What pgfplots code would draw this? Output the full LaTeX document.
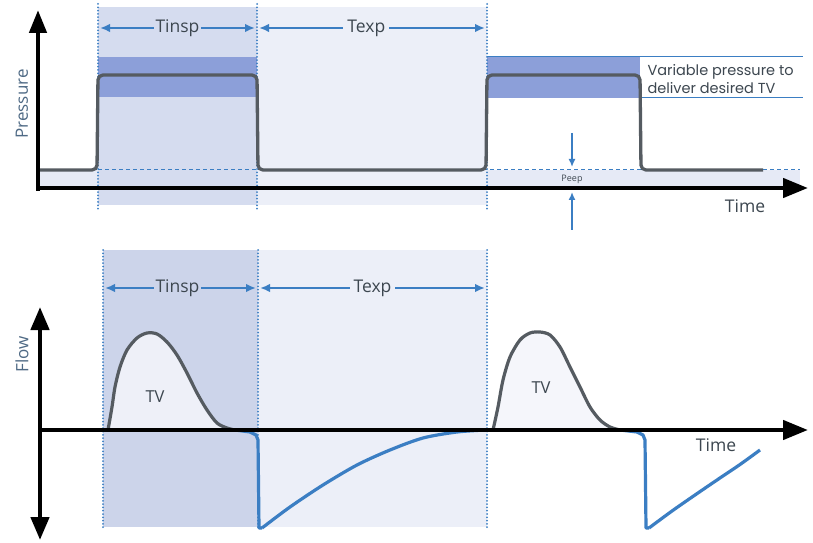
\documentclass[border=0pt]{standalone}
\usepackage{fontspec}
\setmainfont{Open Sans}
\newfontfamily\geofont{Poppins}
\usepackage{pgfplots}
\pgfplotsset{compat=1.18}
\usetikzlibrary{arrows.meta}

\definecolor{tinspTop}{HTML}{D5DCEF}
\definecolor{tinspBot}{HTML}{CCD4EA}
\definecolor{texpReg}{HTML}{ECEFF8}
\definecolor{pband}{HTML}{8C9FD9}
\definecolor{peepband}{HTML}{E6EAF6}
\definecolor{bluel}{HTML}{3B7EC3}
\definecolor{curveg}{HTML}{555B61}
\definecolor{tvfill}{HTML}{EEF0F8}
\definecolor{txt}{HTML}{3D4750}
\definecolor{axlab}{HTML}{4F6A85}

\begin{document}
\begin{tikzpicture}
\begin{axis}[
  scale only axis, width=813pt, height=542pt,
  xmin=0, xmax=813, ymin=0, ymax=542, y dir=reverse,
  hide axis, clip=false,
  dotv/.style={bluel, line width=2pt, line cap=round, dash pattern=on 0pt off 3.3pt},
  span/.style={bluel, line width=2.1pt, {Latex[length=10pt,width=8.5pt]}-{Latex[length=10pt,width=8.5pt]}},
  axarrow/.style={black, line width=4.5pt},
]
% page background
\addplot[fill=white, draw=none] coordinates {(0,0) (813,0) (813,542) (0,542)};

% ---------------- pressure panel ----------------
\addplot[fill=peepband, draw=none] coordinates {(38,170) (800,170) (800,188) (38,188)};
\addplot[fill=tinspTop, draw=none] coordinates {(98,7) (257,7) (257,205) (98,205)};
\addplot[fill=texpReg, draw=none] coordinates {(257,7) (487,7) (487,205) (257,205)};
% range of inspiratory pressure
\addplot[fill=pband, draw=none] coordinates {(98,57) (257,57) (257,97) (98,97)};
\addplot[fill=pband, draw=none] coordinates {(487,57) (640,57) (640,98) (487,98)};
\addplot[bluel, line width=1pt] coordinates {(487,57) (803,57)};
\addplot[bluel, line width=1pt] coordinates {(640,98) (803,98)};
% PEEP level
\addplot[bluel, line width=1pt, dash pattern=on 4pt off 3pt] coordinates {(98,170) (800,170)};
% phase boundaries
\addplot[dotv] coordinates {(98,4) (98,210)};
\addplot[dotv] coordinates {(257,4) (257,210)};
\addplot[dotv] coordinates {(487,4) (487,210)};
% pressure waveform
\addplot[curveg, line width=3.3pt, rounded corners=5pt] coordinates {
  (38,170) (97,170) (98,75) (257,75) (258,170) (486,170) (487,75) (640,75) (641,170) (763,170)};
% axes
\addplot[axarrow, -{Triangle[length=23pt,width=17pt]}] coordinates {(38,191) (38,10)};
\addplot[axarrow, -{Triangle[length=25pt,width=19pt]}] coordinates {(36,188) (808,188)};
% phase spans
\addplot[span] coordinates {(100,28) (255,28)} node[pos=0.5, fill=tinspTop, inner xsep=2pt, inner ysep=1pt, text=txt, font=\fontsize{17.5}{20}\selectfont] {Tinsp};
\addplot[span] coordinates {(259,28) (485,28)} node[pos=0.475, fill=texpReg, inner xsep=4pt, inner ysep=1pt, text=txt, font=\fontsize{17.5}{20}\selectfont] {Texp};
% PEEP marker
\addplot[bluel, line width=1.6pt, -{Latex[length=8pt,width=7pt]}] coordinates {(572,133) (572,167)};
\addplot[bluel, line width=1.6pt, -{Latex[length=8pt,width=7pt]}] coordinates {(572,230) (572,192)};
\node[text=txt, font=\fontsize{9}{10}\selectfont] at (axis cs:572,179) {Peep};
\node[text=txt, font=\geofont\fontsize{14.5}{18}\selectfont, anchor=west, align=left] at (axis cs:644,79.5) {Variable pressure to\\deliver desired TV};
\node[text=axlab, rotate=90, font=\fontsize{17}{20}\selectfont] at (axis cs:22,104) {Pressure};
\node[text=txt, font=\fontsize{17.5}{20}\selectfont] at (axis cs:745,206) {Time};

% ---------------- flow panel ----------------
\addplot[fill=tinspBot, draw=none] coordinates {(103,250) (258,250) (258,527) (103,527)};
\addplot[fill=texpReg, draw=none] coordinates {(258,250) (487,250) (487,527) (258,527)};
% delivered tidal volume
\addplot[fill=tvfill, draw=none, smooth] coordinates {
  (108,430) (112,407) (115,387) (120,367) (127,350) (137,338) (147,333) (157,334)
  (167,342) (177,355) (187,373) (197,393) (207,410) (217,423) (227,428) (235,430)};
\addplot[fill=tvfill!60!white, draw=none, smooth] coordinates {
  (493,430) (498,407) (503,380) (510,357) (520,340) (530,333) (540,332) (550,335)
  (560,347) (570,367) (580,387) (590,407) (600,420) (610,427) (620,430)};
\addplot[dotv] coordinates {(103,250) (103,528)};
\addplot[dotv] coordinates {(258,250) (258,528)};
\addplot[dotv] coordinates {(487,250) (487,528)};
% inspiratory flow
\addplot[curveg, line width=3.2pt, smooth] coordinates {
  (108,430) (112,407) (115,387) (120,367) (127,350) (137,338) (147,333) (157,334)
  (167,342) (177,355) (187,373) (197,393) (207,410) (217,423) (227,428) (235,430)};
\addplot[curveg, line width=3.2pt, smooth] coordinates {
  (493,430) (498,407) (503,380) (510,357) (520,340) (530,333) (540,332) (550,335)
  (560,347) (570,367) (580,387) (590,407) (600,420) (610,427) (620,430)};
% expiratory flow
\addplot[bluel, line width=3.2pt, line join=round] coordinates {
  (235,430) (250,432) (256,435) (258,440) (259,528) (262,528)};
\addplot[bluel, line width=3.2pt, smooth] coordinates {
  (262,528) (290,507) (323,485) (357,465) (390,450) (423,438) (457,432) (486,430)};
\addplot[bluel, line width=3.2pt, line join=round] coordinates {
  (620,430) (637,432) (643,435) (645,440) (646,528) (649,528)};
\addplot[bluel, line width=3.2pt, smooth] coordinates {
  (649,528) (672,511) (695,495) (717,480) (740,464.5) (760,450)};
% axes
\addplot[axarrow, {Triangle[length=23pt,width=18pt]}-{Triangle[length=23pt,width=18pt]}] coordinates {(40,540) (40,307)};
\addplot[axarrow, -{Triangle[length=25pt,width=19pt]}] coordinates {(38,430) (808,430)};
% phase spans
\addplot[span] coordinates {(105,288) (256,288)} node[pos=0.48, fill=tinspBot, inner xsep=2pt, inner ysep=1pt, text=txt, font=\fontsize{17.5}{20}\selectfont] {Tinsp};
\addplot[span] coordinates {(260,288) (485,288)} node[pos=0.5, fill=texpReg, inner xsep=4pt, inner ysep=1pt, text=txt, font=\fontsize{17.5}{20}\selectfont] {Texp};
\node[text=txt, font=\fontsize{16.5}{20}\selectfont] at (axis cs:155,397) {TV};
\node[text=txt, font=\fontsize{16.5}{20}\selectfont] at (axis cs:541,388) {TV};
\node[text=axlab, rotate=90, font=\fontsize{17}{20}\selectfont] at (axis cs:22,354) {Flow};
\node[text=txt, font=\fontsize{17.5}{20}\selectfont] at (axis cs:716,445) {Time};
\end{axis}
\end{tikzpicture}
\end{document}
